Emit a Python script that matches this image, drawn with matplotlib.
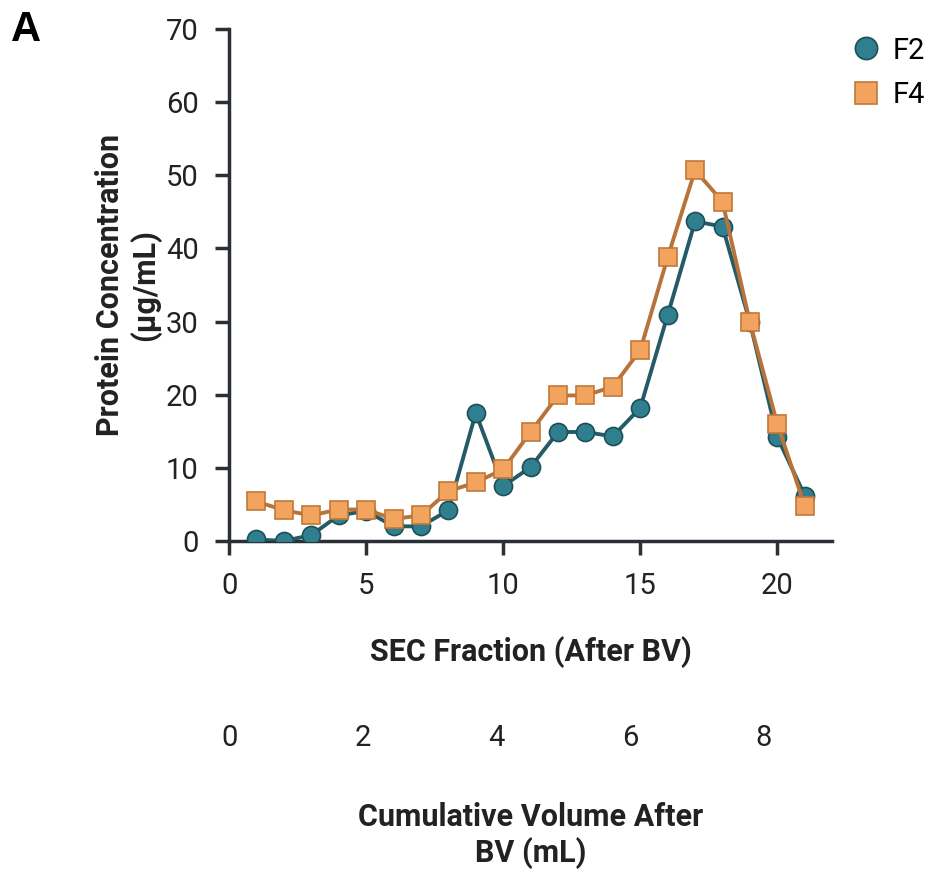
import matplotlib.pyplot as plt
from matplotlib.lines import Line2D

plt.rcParams["font.family"] = ["Roboto", "DejaVu Sans"]

fractions = list(range(1, 22))
f2_conc = [0.2, 0.0, 0.8, 3.5, 4.1, 2.0, 2.0, 4.2, 17.5, 7.5, 10.1,
           14.9, 14.9, 14.3, 18.2, 30.9, 43.7, 43.0, 29.9, 14.2, 6.2]
f4_conc = [5.4, 4.2, 3.5, 4.3, 4.3, 3.0, 3.5, 6.8, 8.0, 9.8, 14.9,
           19.9, 19.9, 21.1, 26.1, 38.8, 50.7, 46.4, 29.9, 16.0, 4.8]
ml_per_fraction = 0.41

axis_col = "#2b2f36"
text_col = "#222222"
f2_style = dict(marker="o", mfc="#2f7f8f", mec="#1d4f59", mew=1.2)
f4_style = dict(marker="s", mfc="#f2a35e", mec="#c0783a", mew=1.2)

fig = plt.figure(figsize=(9.35, 8.69), dpi=100)
ax = fig.add_axes([0.245, 0.3775, 0.645, 0.589])

ax.plot(fractions, f2_conc, color="#245b66", lw=2.8, ms=13, zorder=3, **f2_style)
ax.plot(fractions, f4_conc, color="#b8733a", lw=2.8, ms=13, zorder=4, **f4_style)

ax.set_xlim(0, 22)
ax.set_ylim(0, 70)
ax.set_xticks([0, 5, 10, 15, 20])
ax.set_yticks(range(0, 71, 10))
for side in ["top", "right"]:
    ax.spines[side].set_visible(False)
for side in ["left", "bottom"]:
    ax.spines[side].set_color(axis_col)
    ax.spines[side].set_linewidth(2.5)
ax.tick_params(length=10, width=2.5, color=axis_col, labelsize=21,
               labelcolor=text_col, pad=12)

ax.set_xlabel("SEC Fraction (After BV)", fontsize=22, fontweight="bold",
              color=text_col, labelpad=26)
ax.set_ylabel("Protein Concentration\n(µg/mL)", fontsize=22, fontweight="bold",
              color=text_col, labelpad=3)

# second scale: cumulative volume
sec = ax.secondary_xaxis(-0.303, functions=(lambda f: f * ml_per_fraction,
                                            lambda v: v / ml_per_fraction))
sec.set_xticks([0, 2, 4, 6, 8])
sec.spines["bottom"].set_visible(False)
sec.tick_params(length=0, labelsize=21, labelcolor=text_col, pad=20)
sec.set_xlabel("Cumulative Volume After\nBV (mL)", fontsize=22,
               fontweight="bold", color=text_col, labelpad=36)

handles = [Line2D([], [], ls="none", ms=16, **f2_style),
           Line2D([], [], ls="none", ms=16, **f4_style)]
ax.legend(handles, ["F2", "F4"], loc="upper left", bbox_to_anchor=(1.013, 1.008),
          frameon=False, fontsize=21, handlelength=1.0, handletextpad=0.4,
          labelspacing=0.55, borderaxespad=0)

fig.text(0.012, 0.953, "A", fontsize=30, fontweight="bold",
         family="Liberation Sans", color="black")

fig.savefig("out.png", dpi=100)
